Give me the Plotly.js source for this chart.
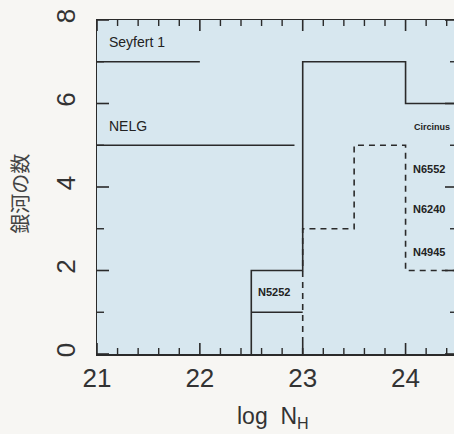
<!DOCTYPE html>
<html><head><meta charset="utf-8">
<script src="https://cdn.plot.ly/plotly-3.0.1.min.js"></script>
<style>html,body{margin:0;padding:0;overflow:hidden;background:#f7f6f3;}</style>
</head><body><div id="chart"></div>
<script>
// histogram bin edges (log N_H) and counts
const binEdges = [22.5, 23, 23.5, 24, 24.5];
const allCounts = [2, 7, 7, 6];        // solid histogram (per bin)
const thickCounts = [1, 3, 5, 2];      // dashed histogram (per bin)
// upper-limit levels
const sey1X = [21, 22];
const sey1Y = [7, 7];
const nelgX = [21, 22.92];
const nelgY = [5, 5];
// tick values
const xMajorTicks = [21, 22, 23, 24];
const xMinorStep = 0.2;
const yMajorTicks = [0, 2, 4, 6, 8];
const yMinorTicks = [1, 3, 5, 7];
// labels
const labelText = ["Seyfert 1", "NELG", "Circinus", "N6552", "N6240", "N4945", "N5252"];
const labelX = [21.1, 21.1, 24.06, 24.05, 24.05, 24.05, 22.55];
const labelY = [7.47, 5.46, 5.44, 4.43, 3.47, 2.44, 1.49];
const labelSize = [14, 14, 9, 11, 11, 11, 11];
const labelBold = [false, false, true, true, true, true, true];

const X_RANGE = [21, 24.5], Y_RANGE = [0, 8];
const W = 458, H = 434, M = {l: 97, r: 1, t: 20, b: 80};
const pxPerX = (W - M.l - M.r) / (X_RANGE[1] - X_RANGE[0]);
const pxPerY = (H - M.t - M.b) / (Y_RANGE[1] - Y_RANGE[0]);

function stepXY(edges, counts, startIdx) {
  const xs = [edges[startIdx]], ys = [0];
  for (let i = startIdx; i < counts.length; i++) {
    xs.push(edges[i]); ys.push(counts[i]);
    xs.push(edges[i + 1]); ys.push(counts[i]);
  }
  return {xs, ys};
}
const solid = stepXY(binEdges, allCounts, 0);
const dashed = stepXY(binEdges, thickCounts, 1);
const lineCol = '#2a2a2a';

// tick marks (inside, on all four sides), one short line trace per tick
const tickTraces = [];
function addTick(x0, x1, y0, y1, w) {
  tickTraces.push({x: [x0, x1], y: [y0, y1], mode: 'lines', line: {color: lineCol, width: w}, hoverinfo: 'skip'});
}
const xlMaj = 11 / pxPerY, xlMin = 6 / pxPerY, ylMaj = 12 / pxPerX, ylMin = 7 / pxPerX;
xMajorTicks.forEach(v => {
  addTick(v, v, Y_RANGE[0], Y_RANGE[0] + xlMaj, 1.6);
  addTick(v, v, Y_RANGE[1], Y_RANGE[1] - xlMaj, 1.6);
  for (let k = 1; k < 5; k++) {
    const m = v + k * xMinorStep;
    if (m < X_RANGE[1]) {
      addTick(m, m, Y_RANGE[0], Y_RANGE[0] + xlMin, 1.4);
      addTick(m, m, Y_RANGE[1], Y_RANGE[1] - xlMin, 1.4);
    }
  }
});
yMajorTicks.forEach(v => {
  addTick(X_RANGE[0], X_RANGE[0] + ylMaj, v, v, 1.6);
  addTick(X_RANGE[1], X_RANGE[1] - ylMaj, v, v, 1.6);
});
yMinorTicks.forEach(v => {
  addTick(X_RANGE[0], X_RANGE[0] + ylMin, v, v, 1.4);
  addTick(X_RANGE[1], X_RANGE[1] - ylMin, v, v, 1.4);
});

const traces = [
  {x: solid.xs, y: solid.ys, mode: 'lines', line: {color: lineCol, width: 1.6}},
  {x: dashed.xs, y: dashed.ys, mode: 'lines', line: {color: lineCol, width: 1.6, dash: '6px,5px'}},
  {x: [binEdges[0], binEdges[1]], y: [thickCounts[0], thickCounts[0]], mode: 'lines', line: {color: lineCol, width: 1.6}},
  {x: sey1X, y: sey1Y, mode: 'lines', line: {color: lineCol, width: 1.6}},
  {x: nelgX, y: nelgY, mode: 'lines', line: {color: lineCol, width: 1.6}}
].concat(tickTraces);
const ann = labelText.map((t, i) => ({
  x: labelX[i], y: labelY[i], xref: 'x', yref: 'y', xanchor: 'left', yanchor: 'middle',
  text: labelBold[i] ? '<b>' + t + '</b>' : t, showarrow: false,
  font: {family: 'Liberation Sans, Arial, sans-serif', size: labelSize[i], color: '#222'}
}));
ann.push({x: -0.214, y: 0.48, xref: 'paper', yref: 'paper', text: '銀河の数', textangle: -90,
  showarrow: false, xanchor: 'center', yanchor: 'middle',
  font: {family: 'Noto Sans CJK JP', size: 20, color: '#444'}});
ann.push({x: 0.49, y: -0.19, xref: 'paper', yref: 'paper', text: 'log  N<sub>H</sub>',
  showarrow: false, xanchor: 'center', yanchor: 'middle',
  font: {family: 'Liberation Sans, Arial, sans-serif', size: 23, color: '#333'}});

const layout = {
  width: W, height: H,
  margin: M,
  paper_bgcolor: '#f7f6f3', plot_bgcolor: '#d7e7ef',
  showlegend: false,
  xaxis: {range: X_RANGE, showgrid: false, zeroline: false, showline: true, linecolor: lineCol, linewidth: 1.5,
    mirror: true, ticks: '', tickvals: xMajorTicks,
    tickfont: {family: 'Liberation Sans, Arial, sans-serif', size: 26, color: '#333'}},
  yaxis: {range: Y_RANGE, showgrid: false, zeroline: false, showline: true, linecolor: lineCol, linewidth: 1.5,
    mirror: true, ticks: '', tickvals: yMajorTicks,
    tickangle: -90, ticklabelstandoff: 10,
    tickfont: {family: 'Liberation Sans, Arial, sans-serif', size: 26, color: '#333'}},
  annotations: ann
};
Plotly.newPlot('chart', traces, layout, {displayModeBar: false, staticPlot: true});
</script></body></html>
